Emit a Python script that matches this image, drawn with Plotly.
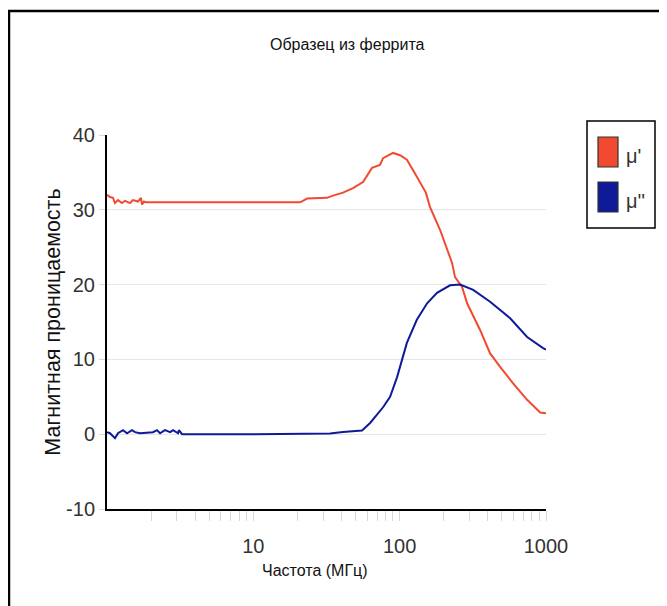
import plotly.graph_objects as go

# μ' (real part) — frequency in MHz, permeability
mu1_freq = [1.00, 1.048, 1.099, 1.134, 1.189, 1.266, 1.328, 1.436, 1.505, 1.628, 1.707, 1.735, 1.791, 1.848,
            2.5, 5, 10, 15, 20.9, 23.3, 31.9, 35.1, 41.0, 48.0, 56.2, 64.7, 73.4, 77.0, 90.1, 100.6, 112,
            127, 138, 151, 161, 189, 228, 239, 267, 289, 355, 415, 486, 596, 743, 912, 1000]
mu1_vals = [32.0, 31.7, 31.6, 30.9, 31.3, 30.9, 31.2, 30.9, 31.3, 31.1, 31.6, 30.7, 31.1, 31.0,
            31.0, 31.0, 31.0, 31.0, 31.0, 31.5, 31.6, 31.9, 32.3, 32.9, 33.7, 35.6, 36.0, 36.9, 37.6, 37.3, 36.7,
            34.9, 33.6, 32.3, 30.4, 27.3, 22.9, 21.0, 19.7, 17.5, 13.9, 10.8, 9.0, 6.8, 4.6, 2.9, 2.8]

# μ'' (imaginary part)
mu2_freq = [1.00, 1.048, 1.134, 1.189, 1.286, 1.37, 1.482, 1.554, 1.681, 2.06, 2.197, 2.303, 2.49, 2.70,
            2.83, 3.06, 3.10, 3.26, 10, 33.4, 41.0, 55.3, 62.8, 77.0, 86.0, 95.9, 112, 131, 154, 180,
            221, 259, 318, 415, 569, 743, 955, 1000]
mu2_vals = [0.27, 0.13, -0.54, 0.13, 0.54, 0.13, 0.54, 0.27, 0.13, 0.27, 0.54, 0.13, 0.54, 0.27,
            0.54, 0.13, 0.54, 0.0, 0.0, 0.1, 0.3, 0.5, 1.5, 3.6, 5.0, 7.6, 12.2, 15.3, 17.5, 18.9,
            19.9, 20.0, 19.3, 17.7, 15.5, 13.0, 11.5, 11.3]

series_names = ["μ'", "μ''"]
series_colors = ["#f24a30", "#0f1a99"]

title_text = "Образец из феррита"
x_title = "Частота (МГц)"
y_title = "Магнитная проницаемость"

x_tickvals = sorted(set([m * d for d in (1, 10, 100) for m in range(2, 10)] + [10, 100, 1000]))
x_ticktext = [str(v) if v in (10, 100, 1000) else "" for v in x_tickvals]
y_tickvals = [-10, 0, 10, 20, 30, 40]
y_ticktext = ["-10", "0", "10", "20", "30", "40"]

FONT = "Arial, Liberation Sans, sans-serif"

# page body has an 8px margin: figure origin is at (8, 8) in the window
OFF = 8
PL, PT, PW, PH = 107, 135, 439, 374  # plot area in window pixels

fig = go.Figure()
fig.add_trace(go.Scatter(x=mu1_freq, y=mu1_vals, mode="lines", name=series_names[0],
                         line=dict(color=series_colors[0], width=2)))
fig.add_trace(go.Scatter(x=mu2_freq, y=mu2_vals, mode="lines", name=series_names[1],
                         line=dict(color=series_colors[1], width=2)))

W, H = 667 - OFF, 606 - OFF
fig.update_layout(
    width=W, height=H,
    margin=dict(l=PL - OFF, r=W - (PL - OFF) - PW, t=PT - OFF, b=H - (PT - OFF) - PH, autoexpand=False),
    paper_bgcolor="white", plot_bgcolor="white",
    showlegend=False,
    font=dict(family=FONT, color="#222"),
)
fig.update_xaxes(type="log", range=[0, 3], tickvals=x_tickvals, ticktext=x_ticktext,
                 ticks="outside", ticklen=10, tickcolor="#d8d8d8", tickwidth=1,
                 ticklabelstandoff=8,
                 showline=True, linecolor="black", linewidth=2, showgrid=False, zeroline=False,
                 tickfont=dict(size=20, color="#333", family=FONT))
fig.update_yaxes(range=[-10, 40], tickvals=y_tickvals, ticktext=y_ticktext, ticks="outside", ticklen=6,
                 tickcolor="#d8d8d8", showline=True, linecolor="black", linewidth=2,
                 showgrid=True, gridcolor="#e6e6e6", gridwidth=1, zeroline=False,
                 tickfont=dict(size=20, color="#333", family=FONT),
                 title=dict(text=y_title, font=dict(size=21.5, color="#111", family=FONT), standoff=0))

def px(xp):
    return (xp - PL) / PW

def py(yp):
    return (PT + PH - yp) / PH

fig.add_annotation(text=x_title, xref="paper", yref="paper", x=px(315), y=py(570),
                   showarrow=False, font=dict(size=16, color="#111", family=FONT), xanchor="center", yanchor="middle")
fig.add_annotation(text=title_text, xref="paper", yref="paper", x=px(347), y=py(45),
                   showarrow=False, font=dict(size=16, color="#111", family=FONT), xanchor="center", yanchor="middle")

# outer frame
fig.add_shape(type="rect", xref="paper", yref="paper", x0=px(9), y0=py(11), x1=px(720), y1=py(700),
              line=dict(color="black", width=2.5), fillcolor="rgba(0,0,0,0)", layer="above")

# legend box
fig.add_shape(type="rect", xref="paper", yref="paper", x0=px(587), y0=py(121), x1=px(655), y1=py(228),
              line=dict(color="black", width=1.5))
for i, (name, col) in enumerate(zip(series_names, series_colors)):
    top = 137 + i * 45
    fig.add_shape(type="rect", xref="paper", yref="paper", x0=px(598), y0=py(top), x1=px(618), y1=py(top + 30),
                  line=dict(color="#333", width=1.2), fillcolor=col)
    fig.add_annotation(text=name, xref="paper", yref="paper", x=px(624), y=py(top + 19),
                       showarrow=False, xanchor="left", yanchor="middle",
                       font=dict(size=20, color="#333", family=FONT))

fig.write_html("out.html")
